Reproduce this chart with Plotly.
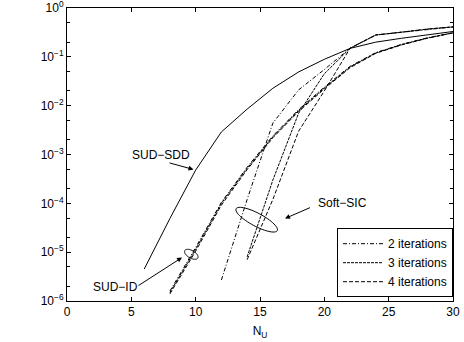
import numpy as np
import plotly.graph_objects as go

# ---------------- data ----------------
N_sdd = [6, 8, 10, 12, 14, 16, 18, 20, 22, 24, 26, 28, 30]
ber_sdd = [4.5e-6, 4.9e-5, 4.8e-4, 2.9e-3, 8.5e-3, 0.0227, 0.049, 0.089, 0.149, 0.20, 0.24, 0.285, 0.33]

N_id = [8, 10, 12, 14, 16, 18, 20, 22, 24, 26, 28, 30]
ber_id_2 = [1.6e-6, 1.25e-5, 1.05e-4, 5.5e-4, 2.4e-3, 8.3e-3, 0.024, 0.064, 0.122, 0.18, 0.245, 0.31]
ber_id_3 = [1.5e-6, 1.15e-5, 1.0e-4, 5.2e-4, 2.3e-3, 8.0e-3, 0.023, 0.062, 0.12, 0.178, 0.242, 0.31]
ber_id_4 = [1.4e-6, 1.05e-5, 9.2e-5, 4.9e-4, 2.2e-3, 7.6e-3, 0.022, 0.060, 0.118, 0.175, 0.24, 0.31]

N_sic_2 = [12, 14, 16, 18, 20, 22, 24, 26, 28, 30]
ber_sic_2 = [2.7e-6, 1.2e-4, 4.4e-3, 0.021, 0.055, 0.15, 0.28, 0.32, 0.37, 0.41]
N_sic_34 = [14, 16, 18, 20, 22, 24, 26, 28, 30]
ber_sic_3 = [8e-6, 3e-4, 7e-3, 0.045, 0.15, 0.28, 0.32, 0.37, 0.41]
ber_sic_4 = [7e-6, 1.2e-4, 3e-3, 0.02, 0.15, 0.28, 0.32, 0.37, 0.41]

legend_names = ["2 iterations", "3 iterations", "4 iterations"]
dash_styles = ["4px,2px,1px,2px", "3px,1px", "4px,2px"]

x_ticks = [0, 5, 10, 15, 20, 25, 30]
y_tick_exp = [0, -1, -2, -3, -4, -5, -6]

# ---------------- figure ----------------
W, H = 464, 342
L, R, T, B = 67, 11, 8, 41
PW, PH = W - L - R, H - T - B

def px2paper(px, py):
    return (px - L) / PW, (H - B - py) / PH

fig = go.Figure()

fig.add_trace(go.Scatter(x=N_sdd, y=ber_sdd, mode="lines",
                         line=dict(color="black", width=1), showlegend=False))

id_sets = [ber_id_2, ber_id_3, ber_id_4]
sic_sets = [(N_sic_2, ber_sic_2), (N_sic_34, ber_sic_3), (N_sic_34, ber_sic_4)]
for i in range(3):
    fig.add_trace(go.Scatter(x=N_id, y=id_sets[i], mode="lines", name=legend_names[i],
                             legendgroup=legend_names[i], showlegend=True,
                             line=dict(color="black", width=1, dash=dash_styles[i])))
    fig.add_trace(go.Scatter(x=sic_sets[i][0], y=sic_sets[i][1], mode="lines",
                             legendgroup=legend_names[i], showlegend=False,
                             line=dict(color="black", width=1, dash=dash_styles[i])))

FONT = "Liberation Sans, Arial, Helvetica, sans-serif"

minor_vals = []
for e in range(-6, 0):
    minor_vals += [2 * 10 ** e, 5 * 10 ** e]

fig.update_layout(
    width=W, height=H,
    margin=dict(l=L, r=R, t=T, b=B, pad=0, autoexpand=False),
    paper_bgcolor="white", plot_bgcolor="white",
    font=dict(family=FONT, size=12, color="black"),
    xaxis=dict(range=[0, 30], tickvals=x_ticks, ticks="inside", ticklen=4,
               tickcolor="black", showline=True, linecolor="black", linewidth=1,
               mirror="ticks", showgrid=False, zeroline=False, automargin=False,
               tickfont=dict(size=12), ticklabeloverflow="allow",
               title=dict(text="N<sub>U</sub>", font=dict(size=12), standoff=8)),
    yaxis=dict(type="log", range=[-6, 0], automargin=False,
               tickvals=[10 ** e for e in y_tick_exp],
               ticktext=["10<sup>%s</sup>" % (str(e).replace("-", "\u2212")) for e in y_tick_exp],
               ticks="inside", ticklen=4, tickcolor="black", ticklabeloverflow="allow",
               showline=True, linecolor="black", linewidth=1, mirror="ticks",
               showgrid=False, zeroline=False, tickfont=dict(size=12),
               minor=dict(tickvals=minor_vals, ticks="inside", ticklen=3,
                          tickcolor="black", showgrid=False)),
    legend=dict(x=1, xanchor="right", y=0.013, yanchor="bottom",
                bordercolor="black", borderwidth=1, bgcolor="white",
                font=dict(size=12), tracegroupgap=0, itemwidth=40),
)

# text labels
def add_text(txt, px, py):
    xp, yp = px2paper(px, py)
    fig.add_annotation(x=xp, y=yp, xref="paper", yref="paper", text=txt,
                       showarrow=False, font=dict(size=12), xanchor="center", yanchor="middle")

def add_arrow(tail, head):
    xp, yp = px2paper(*head)
    fig.add_annotation(x=xp, y=yp, xref="paper", yref="paper", text="",
                       showarrow=True, arrowhead=2, arrowsize=1, arrowwidth=1,
                       arrowcolor="black", ax=tail[0] - head[0], ay=tail[1] - head[1],
                       standoff=0, startstandoff=0)

add_text("SUD\u2212SDD", 161, 155)
add_arrow((168, 162.5), (193.5, 169.5))
add_text("SUD\u2212ID", 115, 286.5)
add_arrow((137, 286.5), (182, 257.5))
add_text("Soft\u2212SIC", 342.5, 203)
add_arrow((311.5, 207), (285, 218.5))

def ellipse_path(cx, cy, a, b, theta_deg, n=60):
    th = np.deg2rad(theta_deg)
    t = np.linspace(0, 2 * np.pi, n, endpoint=False)
    xs = cx + a * np.cos(t) * np.cos(th) - b * np.sin(t) * np.sin(th)
    ys = cy + a * np.cos(t) * np.sin(th) + b * np.sin(t) * np.cos(th)
    pts = [px2paper(x, y) for x, y in zip(xs, ys)]
    return "M " + " L ".join("%.5f,%.5f" % p for p in pts) + " Z"

fig.add_shape(type="path", xref="paper", yref="paper",
              path=ellipse_path(256.7, 219.7, 23.3, 6.5, 28),
              line=dict(color="black", width=1))
fig.add_shape(type="path", xref="paper", yref="paper",
              path=ellipse_path(191.3, 254.3, 7.5, 3.8, 30),
              line=dict(color="black", width=1))

fig.write_html("out.html")
